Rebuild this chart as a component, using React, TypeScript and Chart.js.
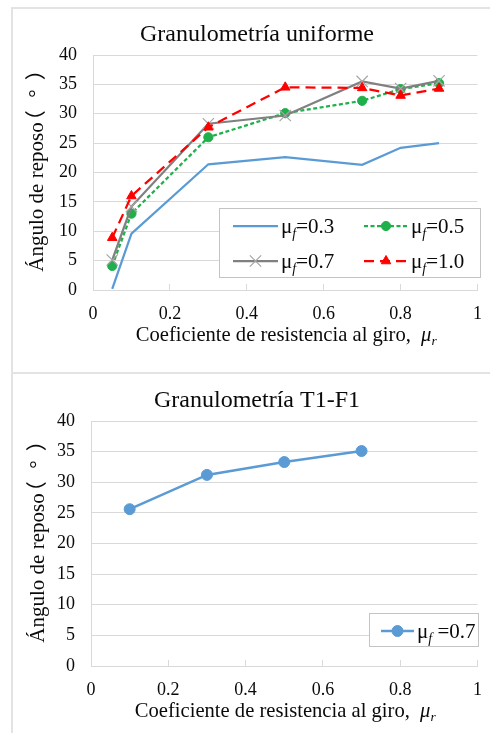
import React, { useEffect, useRef } from 'react';
import { Chart, registerables } from 'chart.js';
import { drawPoint } from 'chart.js/helpers';

Chart.register(...registerables);

const SERIF = "'Liberation Serif', 'Times New Roman', 'Noto Sans CJK JP', serif";
const CJK = "'Noto Sans CJK JP', 'Noto Sans CJK SC', sans-serif";
const TEXT = '#0a0a0a';
const GRID = '#D9D9D9';

// ---- data ----
const TITLE_TOP = 'Granulometría uniforme';
const TITLE_BOTTOM = 'Granulometría T1-F1';
const Y_TITLE_MAIN = 'Ángulo de reposo';
const Y_TITLE_UNIT = ['（', '°', '）'];
const X_TITLE_MAIN = 'Coeficiente de resistencia al giro,  ';
const X_TITLE_SYM = 'μ';
const X_TITLE_SUB = 'r';

const X_TICKS = [0, 0.2, 0.4, 0.6, 0.8, 1];
const Y_TICKS = [0, 5, 10, 15, 20, 25, 30, 35, 40];

const MU_R = [0.05, 0.1, 0.3, 0.5, 0.7, 0.8, 0.9];
const MU_F_03 = [0.2, 9.6, 21.4, 22.6, 21.3, 24.2, 25.0];
const MU_F_05 = [4.1, 13.0, 26.0, 30.1, 32.2, 34.2, 35.2];
const MU_F_07 = [5.1, 14.2, 28.3, 29.7, 35.5, 34.3, 35.6];
const MU_F_10 = [8.9, 16.0, 27.7, 34.5, 34.4, 33.1, 34.3];

const MU_R_T1F1 = [0.1, 0.3, 0.5, 0.7];
const T1F1_MU_F_07 = [25.6, 31.2, 33.3, 35.1];

const LABELS_TOP = ['μf=0.3', 'μf=0.5', 'μf=0.7', 'μf=1.0'];
const LABELS_BOTTOM = ['μf =0.7'];

const pts = (xs: number[], ys: number[]) => xs.map((x, i) => ({ x, y: ys[i] }));

function drawParts(ctx: CanvasRenderingContext2D, parts: { t: string; f: string; dy: number }[], x: number, y: number, align: 'left' | 'center') {
  let total = 0;
  const widths = parts.map((p) => {
    ctx.font = p.f;
    const w = ctx.measureText(p.t).width;
    total += w;
    return w;
  });
  let cx = align === 'center' ? x - total / 2 : x;
  ctx.textAlign = 'left';
  ctx.textBaseline = 'alphabetic';
  parts.forEach((p, i) => {
    ctx.font = p.f;
    ctx.fillText(p.t, cx, y + p.dy);
    cx += widths[i];
  });
}

function drawYTitle(ctx: CanvasRenderingContext2D, ca: any, xBase: number) {
  ctx.save();
  ctx.translate(xBase, (ca.top + ca.bottom) / 2);
  ctx.rotate(-Math.PI / 2);
  ctx.textAlign = 'left';
  ctx.textBaseline = 'alphabetic';
  ctx.fillStyle = TEXT;
  ctx.font = `21px ${SERIF}`;
  const mainW = ctx.measureText(Y_TITLE_MAIN).width;
  const total = mainW + 49;
  const u0 = -total / 2;
  ctx.fillText(Y_TITLE_MAIN, u0, 0);
  ctx.font = `21px ${CJK}`;
  let m = ctx.measureText(Y_TITLE_UNIT[0]);
  ctx.fillText(Y_TITLE_UNIT[0], u0 + mainW + 5 + m.actualBoundingBoxLeft, 0);
  ctx.font = `21px ${SERIF}`;
  m = ctx.measureText(Y_TITLE_UNIT[1]);
  ctx.fillText(Y_TITLE_UNIT[1], u0 + mainW + 29 - (m.actualBoundingBoxRight - m.actualBoundingBoxLeft) / 2, 0);
  ctx.font = `21px ${CJK}`;
  m = ctx.measureText(Y_TITLE_UNIT[2]);
  ctx.fillText(Y_TITLE_UNIT[2], u0 + total - m.actualBoundingBoxRight, 0);
  ctx.restore();
}

const annotPlugin = {
  id: 'annot',
  afterDraw(chart: any, _args: any, opts: any) {
    const { ctx, chartArea: ca } = chart;
    ctx.save();
    ctx.fillStyle = TEXT;
    drawYTitle(ctx, ca, opts.yTitleX);
    drawParts(
      ctx,
      [
        { t: X_TITLE_MAIN, f: `20.6px ${SERIF}`, dy: 0 },
        { t: X_TITLE_SYM, f: `italic 20.6px ${SERIF}`, dy: 0 },
        { t: X_TITLE_SUB, f: `italic 13.5px ${SERIF}`, dy: 4 },
      ],
      (ca.left + ca.right) / 2 + 1,
      ca.bottom + opts.xTitleDy,
      'center'
    );
    const L = opts.legend;
    const bx = Math.round(ca.right + L.right - L.w);
    const by = Math.round(ca.bottom - L.bottom - L.h);
    ctx.fillStyle = '#fff';
    ctx.fillRect(bx, by, L.w, L.h);
    ctx.strokeStyle = '#C4C4C4';
    ctx.lineWidth = 1;
    ctx.strokeRect(bx + 0.5, by + 0.5, L.w, L.h);
    L.items.forEach((it: any) => {
      const ds = chart.data.datasets[it.ds];
      const y = by + it.y;
      const x0 = bx + it.x;
      const x1 = x0 + it.len;
      ctx.save();
      ctx.strokeStyle = ds.borderColor;
      ctx.lineWidth = ds.borderWidth;
      ctx.setLineDash(ds.borderDash || []);
      ctx.beginPath();
      ctx.moveTo(x0, y);
      ctx.lineTo(x1, y);
      ctx.stroke();
      ctx.setLineDash([]);
      if (ds.pointRadius > 0) {
        ctx.fillStyle = ds.pointBackgroundColor;
        ctx.strokeStyle = ds.pointBorderColor;
        ctx.lineWidth = ds.pointBorderWidth;
        drawPoint(ctx, { pointStyle: ds.pointStyle, radius: ds.pointRadius, rotation: 0, borderWidth: ds.pointBorderWidth } as any, (x0 + x1) / 2, y);
      }
      ctx.restore();
      const label: string = ds.label;
      ctx.fillStyle = TEXT;
      drawParts(
        ctx,
        [
          { t: label[0], f: `21px ${SERIF}`, dy: 0 },
          { t: label[1], f: `italic 14px ${SERIF}`, dy: 5 },
          { t: label.slice(2), f: `21px ${SERIF}`, dy: 0 },
        ],
        bx + it.tx,
        y + 7,
        'left'
      );
    });
    ctx.restore();
  },
};

function makeConfig(p: any): any {
  const lh = 24 * 1.2;
  return {
    type: 'line',
    data: { datasets: p.datasets },
    plugins: [annotPlugin],
    options: {
      animation: false,
      responsive: false,
      events: [],
      layout: { padding: 0 },
      scales: {
        x: {
          type: 'linear',
          min: 0,
          max: 1,
          afterBuildTicks: (s: any) => {
            s.ticks = X_TICKS.map((v) => ({ value: v }));
          },
          afterFit: (s: any) => {
            s.height = p.xHeight;
          },
          grid: { display: true, drawOnChartArea: false, drawTicks: true, tickLength: -6, color: GRID, lineWidth: 1 },
          border: { display: true, color: GRID, width: 1 },
          ticks: {
            padding: 19,
            autoSkip: false,
            maxRotation: 0,
            color: TEXT,
            font: { family: SERIF, size: 18, lineHeight: 1.2 },
            callback: (v: any) => String(v),
          },
        },
        y: {
          type: 'linear',
          min: 0,
          max: 40,
          afterBuildTicks: (s: any) => {
            s.ticks = Y_TICKS.map((v) => ({ value: v }));
          },
          afterFit: (s: any) => {
            s.width = p.yWidth;
          },
          grid: { color: GRID, lineWidth: 1, drawTicks: false },
          border: { display: true, color: GRID, width: 1 },
          ticks: {
            padding: 16,
            color: TEXT,
            font: { family: SERIF, size: 18, lineHeight: 1.2 },
            callback: (v: any) => String(v),
          },
        },
        yRight: {
          type: 'linear',
          position: 'right',
          display: true,
          min: 0,
          max: 40,
          grid: { display: false },
          border: { display: false },
          ticks: { display: false },
          afterFit: (s: any) => {
            s.width = p.padRight;
          },
        },
      },
      plugins: {
        legend: { display: false },
        tooltip: { enabled: false },
        title: {
          display: true,
          text: p.title,
          color: TEXT,
          font: { family: SERIF, size: 24, weight: 'normal', lineHeight: 1.2 },
          padding: { top: p.titleCenter - lh / 2, bottom: p.chartTop - p.titleCenter - lh / 2 },
        },
        annot: { xTitleDy: 51, yTitleX: p.yTitleX, legend: p.legend },
      },
    },
  };
}

const topConfig = () =>
  makeConfig({
    title: TITLE_TOP,
    titleCenter: 26,
    chartTop: 46,
    padRight: 21,
    yWidth: 80,
    xHeight: 82,
    yTitleX: 29.5,
    datasets: [
      {
        label: LABELS_TOP[0],
        data: pts(MU_R, MU_F_03),
        borderColor: '#5B9BD5',
        borderWidth: 2.25,
        pointRadius: 0,
        order: 3,
      },
      {
        label: LABELS_TOP[1],
        data: pts(MU_R, MU_F_05),
        borderColor: '#1FB04B',
        borderWidth: 2.25,
        borderDash: [4, 2.5],
        pointStyle: 'circle',
        pointRadius: 4.6,
        pointBackgroundColor: '#1FB04B',
        pointBorderColor: '#1FB04B',
        pointBorderWidth: 1,
        order: 2,
      },
      {
        label: LABELS_TOP[2],
        data: pts(MU_R, MU_F_07),
        borderColor: '#808080',
        borderWidth: 2.25,
        pointStyle: 'crossRot',
        pointRadius: 8,
        pointBackgroundColor: '#A6A6A6',
        pointBorderColor: '#A6A6A6',
        pointBorderWidth: 1.2,
        order: 1,
      },
      {
        label: LABELS_TOP[3],
        data: pts(MU_R, MU_F_10),
        borderColor: '#FF0000',
        borderWidth: 2.25,
        borderDash: [10, 6],
        pointStyle: 'triangle',
        pointRadius: 5.5,
        pointBackgroundColor: '#FF0000',
        pointBorderColor: '#FF0000',
        pointBorderWidth: 1,
        order: 0,
      },
    ],
    legend: {
      right: 2,
      bottom: 13,
      w: 261,
      h: 69,
      items: [
        { ds: 0, x: 14, y: 18, len: 45, tx: 62 },
        { ds: 1, x: 145, y: 18, len: 44, tx: 192 },
        { ds: 2, x: 14, y: 53, len: 45, tx: 62 },
        { ds: 3, x: 145, y: 53, len: 44, tx: 192 },
      ],
    },
  });

const bottomConfig = () =>
  makeConfig({
    title: TITLE_BOTTOM,
    titleCenter: 27,
    chartTop: 47,
    padRight: 20,
    yWidth: 78,
    xHeight: 67,
    yTitleX: 31,
    datasets: [
      {
        label: LABELS_BOTTOM[0],
        data: pts(MU_R_T1F1, T1F1_MU_F_07),
        borderColor: '#5B9BD5',
        borderWidth: 2.5,
        pointStyle: 'circle',
        pointRadius: 5.5,
        pointBackgroundColor: '#5B9BD5',
        pointBorderColor: '#5B9BD5',
        pointBorderWidth: 1,
      },
    ],
    legend: {
      right: 0,
      bottom: 20,
      w: 109,
      h: 33,
      items: [{ ds: 0, x: 12, y: 18, len: 33, tx: 48 }],
    },
  });

function ChartCanvas({ make, left, top, width, height }: any) {
  const ref = useRef<HTMLCanvasElement>(null);
  useEffect(() => {
    const chart = new Chart(ref.current as HTMLCanvasElement, make());
    return () => chart.destroy();
  }, []);
  return (
    <canvas
      ref={ref}
      width={width}
      height={height}
      style={{ position: 'absolute', left, top, width, height, display: 'block' }}
    />
  );
}

export default function App() {
  const line = '#E3E3E3';
  return (
    <div style={{ position: 'fixed', left: 0, top: 0, width: 490, height: 733, overflow: 'hidden', background: '#fff' }}>
      <div style={{ position: 'absolute', left: 11, top: 7, width: 2, height: 726, background: line }} />
      <div style={{ position: 'absolute', left: 11, top: 7, width: 479, height: 2, background: line }} />
      <div style={{ position: 'absolute', left: 11, top: 372, width: 479, height: 2, background: line }} />
      <ChartCanvas make={topConfig} left={13} top={9} width={488} height={363} />
      <ChartCanvas make={bottomConfig} left={13} top={374} width={488} height={359} />
    </div>
  );
}
